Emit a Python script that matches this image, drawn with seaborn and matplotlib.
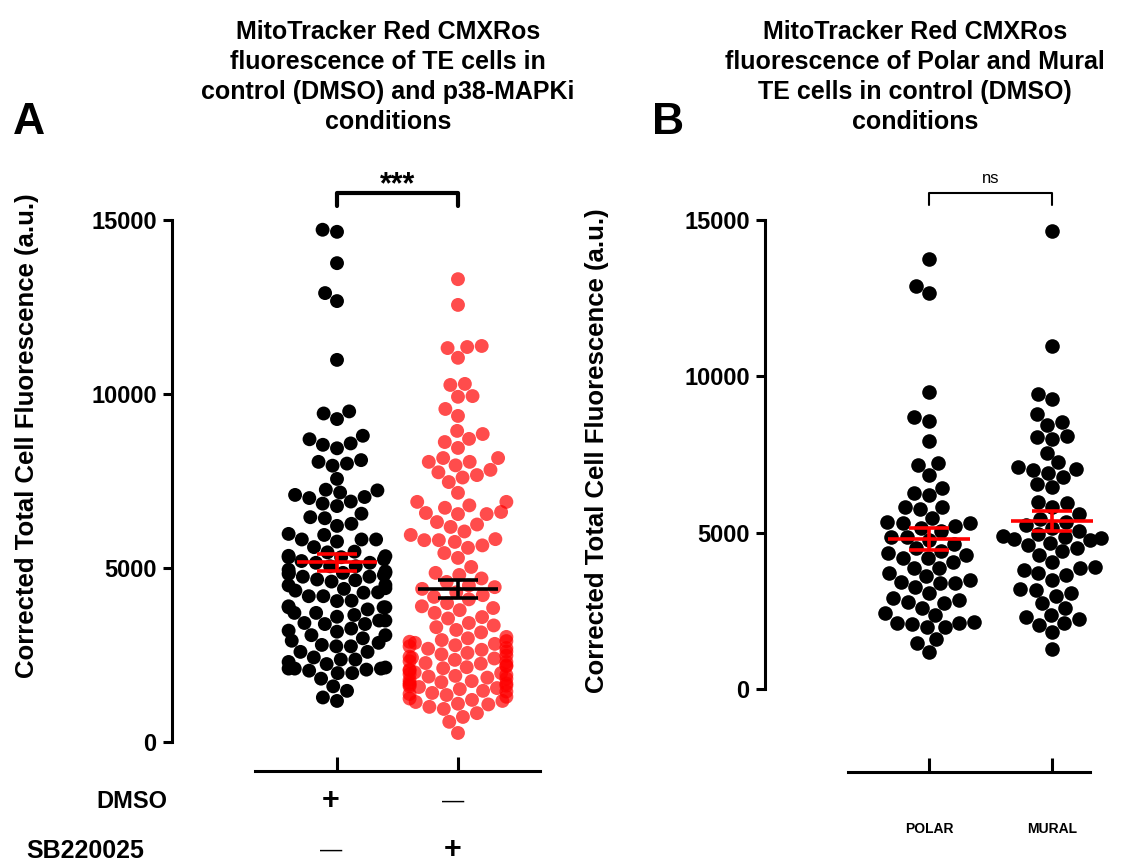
import numpy as np
import pandas as pd
import seaborn as sns
import matplotlib.pyplot as plt

# CTCF values (a.u.)
polar = [13760, 12900, 12670, 9500, 8700, 8580, 7940, 7230, 7170, 6850,
         6430, 6270, 6210, 5820, 5820, 5760, 5470, 5340, 5310, 5310,
         5200, 5150, 5050, 4860, 4860, 4750, 4650, 4500, 4420, 4350,
         4300, 4190, 4190, 4050, 3870, 3870, 3710, 3600, 3490, 3420,
         3390, 3390, 3260, 3070, 2910, 2850, 2790, 2750, 2590, 2430,
         2370, 2140, 2110, 2110, 2080, 1980, 1980, 1600, 1470, 1180]

mural = [14660, 10980, 9440, 9280, 8800, 8540, 8440, 8100, 8050, 8000,
         7560, 7250, 7100, 7040, 7010, 6910, 6780, 6560, 6460, 5980,
         5950, 5820, 5600, 5450, 5350, 5250, 5150, 5050, 4950, 4900,
         4800, 4750, 4860, 4830, 4670, 4610, 4510, 4400, 4290, 4060,
         3900, 3870, 3810, 3710, 3650, 3490, 3200, 3170, 3070, 2980,
         2750, 2590, 2370, 2300, 2240, 2110, 2050, 1820, 1280]

# one DMSO cell in panel A that is not in the polar/mural split
dmso_extra = [14720]

sb220025 = [13300, 12560, 11380, 11350, 11320, 11040, 10290, 10260, 9940, 9920,
            9570, 9370, 8940, 8850, 8710, 8620, 8450, 8160, 8160,
            8050, 8050, 7950, 7820, 7750, 7670, 7600, 7470,
            7160, 6900, 6900, 6800, 6730, 6610, 6580,
            6550, 6550, 6320, 6250, 6180, 6050, 5950,
            5830, 5800, 5800, 5750, 5650, 5580, 5430, 5290,
            5030, 4860, 4800, 4700, 4600, 4500, 4450, 4400, 4300,
            4220, 4170, 4100, 3990, 3900, 3850, 3790, 3710,
            3590, 3550, 3420, 3350, 3300, 3220, 3150, 3020,
            2980, 2930, 2900, 2880, 2850, 2820, 2780, 2750, 2700, 2680, 2650,
            2600, 2560, 2520, 2480, 2450, 2420, 2400, 2360, 2320, 2300,
            2270, 2250, 2200, 2180, 2150, 2120, 2080, 2050, 2000, 1980,
            1950, 1930, 1900, 1880, 1850, 1820, 1780, 1750, 1720, 1700,
            1680, 1650, 1620, 1600, 1580, 1550, 1520, 1470, 1450, 1410,
            1380, 1350, 1300, 1250, 1210, 1180, 1150, 1100, 1080, 1010,
            950, 830, 720, 580, 260]

dmso = polar + mural + dmso_extra

sns.set_theme(style="ticks")
plt.rcParams["font.family"] = ["Liberation Sans", "DejaVu Sans"]
plt.rcParams["text.color"] = "black"
plt.rcParams["axes.labelcolor"] = "black"
plt.rcParams["xtick.color"] = "black"
plt.rcParams["ytick.color"] = "black"

W, H = 1136, 864
fig = plt.figure(figsize=(W / 100, H / 100), dpi=100)
axA = fig.add_axes([172 / W, 1 - 771 / H, (540 - 172) / W, (771 - 220) / H])
axB = fig.add_axes([765 / W, 1 - 772 / H, (1136 - 765) / W, (772 - 220) / H])

dfA = pd.DataFrame({"group": ["DMSO"] * len(dmso) + ["SB220025"] * len(sb220025),
                    "value": dmso + sb220025})
dfB = pd.DataFrame({"group": ["POLAR"] * len(polar) + ["MURAL"] * len(mural),
                    "value": polar + mural})

sns.swarmplot(data=dfA, x="group", y="value", hue="group",
              palette={"DMSO": "black", "SB220025": "#ff0000"},
              size=10, linewidth=0, legend=False, warn_thresh=1, ax=axA)
axA.collections[1].set_alpha(0.7)

sns.swarmplot(data=dfB, x="group", y="value", color="black",
              size=10.5, linewidth=0, warn_thresh=1, ax=axB)


def mean_sem(ax, i, vals, col):
    m = np.mean(vals)
    se = np.std(vals, ddof=1) / np.sqrt(len(vals))
    ax.hlines(m, i - 0.33, i + 0.33, color=col, lw=2.6, zorder=6)
    ax.hlines([m - se, m + se], i - 0.165, i + 0.165, color=col, lw=2.6, zorder=6)
    ax.vlines(i, m - se, m + se, color=col, lw=2.6, zorder=6)


mean_sem(axA, 0, dmso, "#ff0000")
mean_sem(axA, 1, sb220025, "black")
mean_sem(axB, 0, polar, "#ff0000")
mean_sem(axB, 1, mural, "#ff0000")

axA.set_xlim(-1.364, 1.678)
axA.set_ylim(-833, 15000)
axB.set_xlim(-1.333, 1.683)
axB.set_ylim(-2654, 15000)

for ax, xb in [(axA, (-0.678, 1.678)), (axB, (-0.659, 1.309))]:
    sns.despine(ax=ax)
    ax.spines["left"].set_bounds(0, 15000)
    ax.spines["bottom"].set_bounds(*xb)
    for s in ["left", "bottom"]:
        ax.spines[s].set_linewidth(2.2)
        ax.spines[s].set_color("black")
    ax.set_yticks([0, 5000, 10000, 15000])
    ax.set_yticklabels(["0", "5000", "10000", "15000"], fontweight="bold", fontsize=17)
    ax.tick_params(axis="y", length=6.5, width=2.2, pad=4.5)
    ax.tick_params(axis="x", direction="in", length=10, width=2.2)
    ax.set_xlabel("")
    ax.set_ylabel("")

axA.set_xticks([0, 1])
axA.set_xticklabels(["", ""])
axB.set_xticks([0, 1])
axB.set_xticklabels(["POLAR", "MURAL"], fontweight="bold", fontsize=10)
axB.tick_params(axis="x", pad=36)

# treatment rows under panel A
fig.text(132 / W, 1 - 802 / H, "DMSO", ha="center", va="center", fontsize=17, fontweight="bold")
fig.text(85 / W, 1 - 851 / H, "SB220025", ha="center", va="center", fontsize=18, fontweight="bold")
row_y = [1 - 801 / H, 1 - 850 / H]
marks = [["+", "—"], ["—", "+"]]
for r, yy in enumerate(row_y):
    for i, xx in enumerate([331, 453]):
        mk = marks[r][i]
        fig.text(xx / W, yy, mk, ha="center", va="center",
                 fontsize=22 if mk == "+" else 16,
                 fontweight="bold" if mk == "+" else "normal")

# y labels
ylab = "Corrected Total Cell Fluorescence (a.u.)"
fig.text(27 / W, 1 - 436 / H, ylab, rotation=90,
         ha="center", va="center", fontsize=18.5, fontweight="bold")
fig.text(597 / W, 1 - 451 / H, ylab, rotation=90,
         ha="center", va="center", fontsize=18.5, fontweight="bold")

# titles and panel letters
fig.text(388 / W, 1 - 77 / H,
         "MitoTracker Red CMXRos\nfluorescence of TE cells in\ncontrol (DMSO) and p38-MAPKi\nconditions",
         ha="center", va="center", fontsize=18, fontweight="bold", linespacing=1.3)
fig.text(915 / W, 1 - 77 / H,
         "MitoTracker Red CMXRos\nfluorescence of Polar and Mural\nTE cells in control (DMSO)\nconditions",
         ha="center", va="center", fontsize=18, fontweight="bold", linespacing=1.3)
fig.text(29 / W, 1 - 122 / H, "A", ha="center", va="center", fontsize=32, fontweight="bold")
fig.text(668 / W, 1 - 122 / H, "B", ha="center", va="center", fontsize=32, fontweight="bold")

# significance brackets
axA.plot([0, 0, 1, 1], [15400, 15780, 15780, 15400], color="black", lw=3, clip_on=False)
axA.text(0.5, 16000, "***", ha="center", va="center", fontsize=22, fontweight="bold")
axB.plot([0, 0, 1, 1], [15480, 15860, 15860, 15480], color="black", lw=1.5, clip_on=False)
axB.text(0.5, 16100, "ns", ha="center", va="bottom", fontsize=12)

fig.savefig("out.png", dpi=100)
